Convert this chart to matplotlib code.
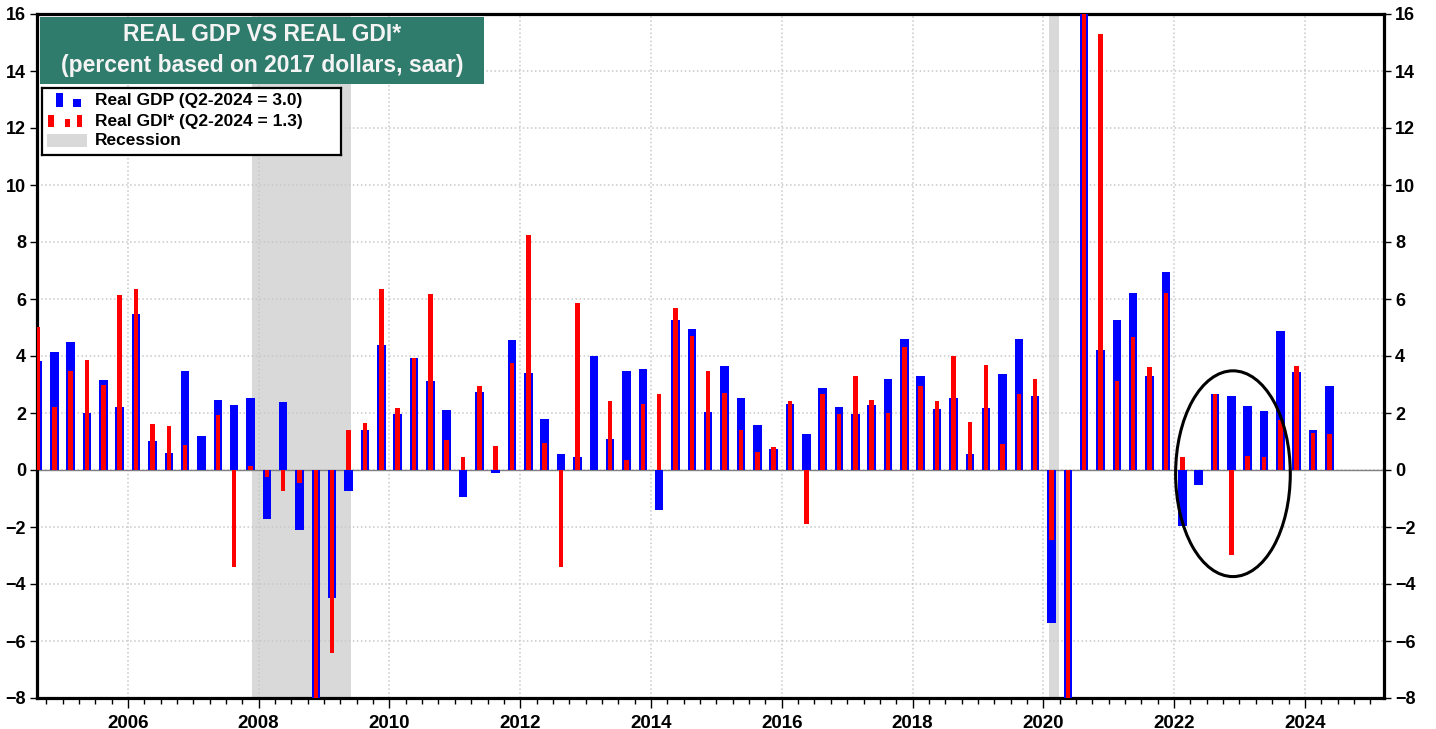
import matplotlib
matplotlib.use("Agg")
import matplotlib.pyplot as plt
from matplotlib.patches import Rectangle, Ellipse
import numpy as np

plt.rcParams['font.family'] = ['Liberation Sans', 'DejaVu Sans']
plt.rcParams['font.weight'] = 'bold'

# quarterly data, 2004Q3 .. 2024Q2 (annualized % change)
first_year, first_q = 2004, 3
real_gdp = [3.82, 4.14,
            4.49, 1.99, 3.16, 2.21,
            5.47, 1.03, 0.60, 3.47,
            1.18, 2.46, 2.29, 2.53,
            -1.71, 2.37, -2.10, -8.5,
            -4.48, -0.73, 1.40, 4.37,
            1.95, 3.93, 3.14, 2.11,
            -0.96, 2.74, -0.09, 4.56,
            3.42, 1.79, 0.56, 0.45,
            4.01, 1.08, 3.46, 3.53,
            -1.41, 5.27, 4.95, 2.04,
            3.65, 2.51, 1.58, 0.73,
            2.33, 1.27, 2.86, 2.22,
            1.95, 2.27, 3.18, 4.61,
            3.29, 2.15, 2.51, 0.56,
            2.19, 3.38, 4.61, 2.59,
            -5.38, -28.0, 34.9, 4.21,
            5.27, 6.22, 3.29, 6.96,
            -1.98, -0.54, 2.66, 2.58,
            2.23, 2.07, 4.87, 3.43,
            1.39, 2.95]
real_gdi = [5.03, 2.20,
            3.47, 3.87, 2.98, 6.15,
            6.34, 1.63, 1.54, 0.88,
            0.0, 1.94, -3.42, 0.14,
            -0.26, -0.74, -0.47, -9.6,
            -6.43, 1.40, 1.64, 6.34,
            2.17, 3.93, 6.19, 1.04,
            0.45, 2.94, 0.85, 3.74,
            8.26, 0.93, -3.39, 5.87,
            0.0, 2.42, 0.36, 2.31,
            2.66, 5.67, 4.71, 3.49,
            2.71, 1.41, 0.64, 0.79,
            2.42, -1.88, 2.65, 1.98,
            3.29, 2.46, 1.99, 4.32,
            2.94, 2.42, 4.01, 1.67,
            3.69, 0.92, 2.66, 3.18,
            -2.45, -32.0, 25.0, 15.29,
            3.14, 4.65, 3.61, 6.21,
            0.45, 0.0, 2.66, -2.99,
            0.49, 0.44, 1.75, 3.65,
            1.31, 1.26]
recessions = [(2007.90, 2009.41), (2020.09, 2020.24)]

# bar centres at mid-quarter
t = first_year + (first_q - 0.5) / 4 + np.arange(len(real_gdp)) / 4

W, H = 1436, 729
def px_box(x0, y0, x1, y1):
    return [x0 / W, 1 - y1 / H, (x1 - x0) / W, (y1 - y0) / H]

fig = plt.figure(figsize=(W / 100, H / 100), dpi=100)
ax = fig.add_axes(px_box(37, 14, 1384, 698))

for a, b in recessions:
    ax.axvspan(a, b, color='#d9d9d9', lw=0, zorder=0)

ax.bar(t, real_gdp, width=0.13, color='#0000ff', zorder=3)
ax.bar(t, real_gdi, width=0.069, color='#ff0000', zorder=4)
ax.axhline(0, color='#808080', lw=1, zorder=2)

ax.add_patch(Ellipse((2022.90, -0.13), 1.754, 7.22, fill=False,
                     edgecolor='black', lw=2.2, zorder=6))

ax.set_xlim(2004.61, 2025.21)
ax.set_ylim(-8, 16)
ax.set_yticks(range(-8, 17, 2))
ax.set_xticks(range(2006, 2025, 2))
ax.set_xticks(np.arange(2004.75, 2025.25, 0.25), minor=True)
ax.grid(True, which='major', color='#c8c8c8', ls=':', lw=1.1, zorder=1)
ax.set_axisbelow(True)

ax.tick_params(axis='y', which='both', left=True, right=True, labelleft=True,
               labelright=True, labelsize=13, length=5, width=1, pad=3)
ax.tick_params(axis='x', which='major', length=7, width=1, labelsize=13.5, pad=5)
ax.tick_params(axis='x', which='minor', length=4, width=1)
for s in ax.spines.values():
    s.set_linewidth(2.3)

# title box
tb = fig.add_axes(px_box(40, 17, 484, 84))
tb.set_facecolor('#2f7b6c')
tb.set_xticks([]); tb.set_yticks([])
for s in tb.spines.values():
    s.set_visible(False)
tb.text(0.5, 0.74, 'REAL GDP VS REAL GDI*', color='#f4f4f4', fontsize=16.5,
        ha='center', va='center', transform=tb.transAxes)
tb.text(0.5, 0.27, '(percent based on 2017 dollars, saar)', color='#f4f4f4',
        fontsize=16.5, ha='center', va='center', transform=tb.transAxes)

# legend box, drawn in pixel units relative to its corner
lg = fig.add_axes(px_box(41.7, 88.3, 340.7, 155))
lg.set_xlim(0, 299); lg.set_ylim(66.7, 0)
lg.set_xticks([]); lg.set_yticks([])
for s in lg.spines.values():
    s.set_linewidth(1.6)
def rect(x0, x1, y0, y1, c):
    lg.add_patch(Rectangle((x0, y0), x1 - x0, y1 - y0, color=c, lw=0))
rect(14.3, 21, 5, 18.4, '#0000ff')
rect(31.6, 39, 11, 18.4, '#0000ff')
rect(6.6, 12.3, 26.7, 39, '#ff0000')
rect(23.3, 28.3, 31, 39, '#ff0000')
rect(35.6, 40.6, 26.7, 39, '#ff0000')
rect(5.6, 45.6, 46, 58.4, '#d9d9d9')
labels = ['Real GDP (Q2-2024 = 3.0)', 'Real GDI* (Q2-2024 = 1.3)', 'Recession']
for yy, lab in zip([12, 33, 52.5], labels):
    lg.text(53.3, yy, lab, fontsize=12.5, va='center', ha='left')

fig.savefig('out.png', dpi=100)
